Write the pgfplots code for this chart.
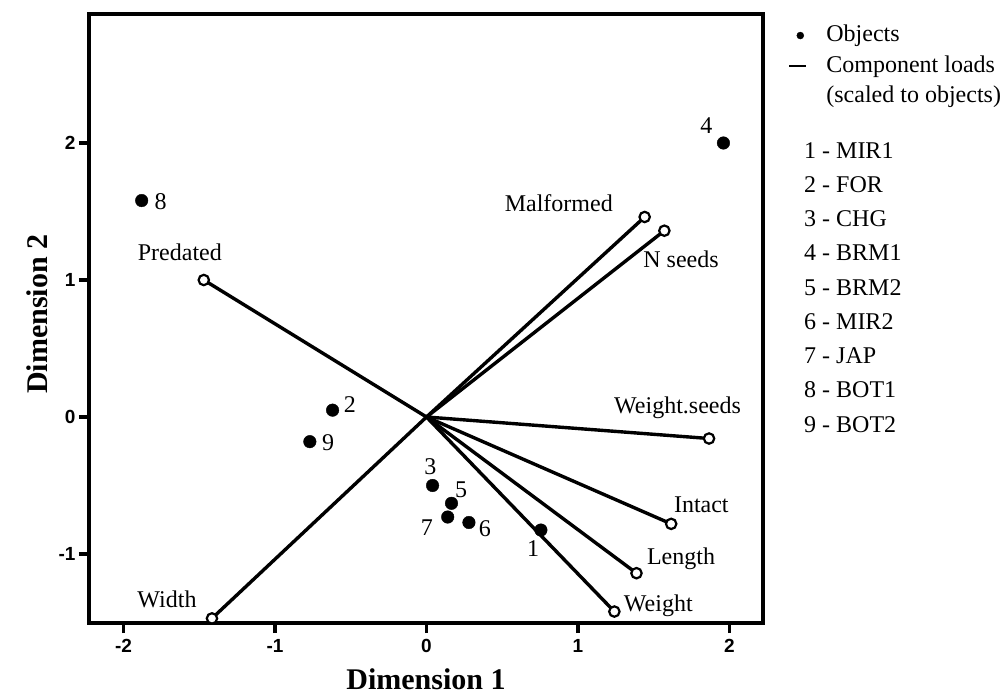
\documentclass[border=0pt]{standalone}
\usepackage{fontspec}
\setmainfont{Liberation Serif}
\setsansfont{Liberation Sans}
\usepackage{pgfplots}
\pgfplotsset{compat=1.18}
\pgfplotsset{
  load/.style={line width=3.4pt, black, mark=*, mark indices={2}, mark size=5.2pt,
    mark options={fill=white, line width=2.2pt, solid}, forget plot},
}
\tikzset{lab/.style={font=\fontsize{24}{24}\selectfont, anchor=base, inner sep=0pt}}
\begin{document}
\begin{tikzpicture}
\useasboundingbox (-89pt,-71pt) rectangle (918pt,623pt);
\begin{axis}[
  at={(0pt,0pt)}, anchor=south west,
  scale only axis, width=674pt, height=609pt,
  xmin=-2.2277, xmax=2.2211, ymin=-1.5036, ymax=2.9416,
  clip=false,
  axis line style={line width=3.2pt},
  xtick={-2,-1,0,1,2}, xticklabels={-2,-1,0,1,2},
  ytick={-1,0,1,2}, yticklabels={-1,0,1,2},
  xtick pos=bottom, ytick pos=left,
  tick align=outside, major tick length=10pt,
  major tick style={line width=3.2pt, black},
  tick label style={font=\fontsize{19}{19}\selectfont\sffamily\bfseries},
  xticklabel style={yshift=-3pt},
  xlabel={Dimension 1}, ylabel={Dimension 2},
  label style={font=\fontsize{30}{30}\selectfont\bfseries, inner sep=0pt},
  xlabel style={at={(axis description cs:0.5,-0.092)}, anchor=center},
  ylabel style={at={(axis description cs:-0.0772,0.507)}, anchor=center},
  legend style={at={(axis description cs:1.0371,0.990)}, anchor=north west,
    draw=none, fill=none, inner sep=0pt, font=\fontsize{24}{24}\selectfont,
    row sep=0pt, column sep=17pt,
    nodes={inner xsep=2pt, inner ysep=4.25pt, text height=17pt, text depth=5pt}},
  legend cell align=left,
]
\addlegendimage{only marks, mark=*, mark size=3.5pt, black}
\addlegendentry{Objects}
\addlegendimage{legend image code/.code={\draw[line width=2.2pt] (0.3cm-11pt,0pt) -- (0.3cm+6pt,0pt);}}
\addlegendentry{Component loads}
\addlegendimage{empty legend}
\addlegendentry{(scaled to objects)}

% component loads
\addplot[load] coordinates {(0,0) (-1.47,1.00)};
\addplot[load] coordinates {(0,0) (1.44,1.46)};
\addplot[load] coordinates {(0,0) (1.57,1.36)};
\addplot[load] coordinates {(0,0) (1.865,-0.157)};
\addplot[load] coordinates {(0,0) (1.615,-0.78)};
\addplot[load] coordinates {(0,0) (1.386,-1.14)};
\addplot[load] coordinates {(0,0) (1.24,-1.42)};
\addplot[load] coordinates {(0,0) (-1.416,-1.47)};

% objects
\addplot[only marks, mark=*, mark size=6.3pt, black, forget plot] coordinates {
  (0.755,-0.825) (-0.62,0.05) (0.04,-0.50) (1.96,2.00) (0.165,-0.63)
  (0.28,-0.77) (0.14,-0.73) (-1.88,1.58) (-0.77,-0.18)};

% object labels
\node[lab] at (axis cs:0.703,-1.020) {1};
\node[lab] at (axis cs:-0.505,0.036) {2};
\node[lab] at (axis cs:0.025,-0.423) {3};
\node[lab] at (axis cs:1.848,2.066) {4};
\node[lab] at (axis cs:0.228,-0.591) {5};
\node[lab] at (axis cs:0.386,-0.874) {6};
\node[lab] at (axis cs:0.003,-0.864) {7};
\node[lab] at (axis cs:-1.755,1.518) {8};
\node[lab] at (axis cs:-0.650,-0.248) {9};

% variable labels
\node[lab] at (axis cs:-1.628,1.146) {Predated};
\node[lab] at (axis cs:0.873,1.50) {Malformed};
\node[lab] at (axis cs:1.68,1.088) {N seeds};
\node[lab] at (axis cs:1.657,0.022) {Weight.seeds};
\node[lab] at (axis cs:1.814,-0.70) {Intact};
\node[lab] at (axis cs:1.68,-1.08) {Length};
\node[lab] at (axis cs:1.53,-1.416) {Weight};
\node[lab] at (axis cs:-1.713,-1.394) {Width};

% site list
\node[lab, anchor=base west] at (axis cs:2.4917,1.8905) {1 - MIR1};
\node[lab, anchor=base west] at (axis cs:2.4917,1.6405) {2 - FOR};
\node[lab, anchor=base west] at (axis cs:2.4917,1.3905) {3 - CHG};
\node[lab, anchor=base west] at (axis cs:2.4917,1.1405) {4 - BRM1};
\node[lab, anchor=base west] at (axis cs:2.4917,0.8905) {5 - BRM2};
\node[lab, anchor=base west] at (axis cs:2.4917,0.6405) {6 - MIR2};
\node[lab, anchor=base west] at (axis cs:2.4917,0.3905) {7 - JAP};
\node[lab, anchor=base west] at (axis cs:2.4917,0.1405) {8 - BOT1};
\node[lab, anchor=base west] at (axis cs:2.4917,-0.1095) {9 - BOT2};
\end{axis}
\end{tikzpicture}
\end{document}
